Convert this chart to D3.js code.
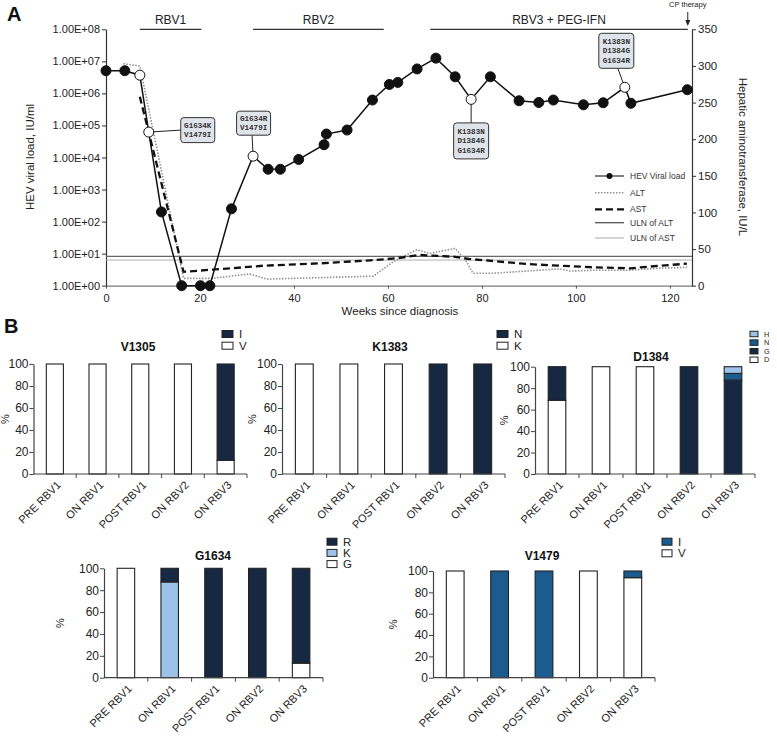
<!DOCTYPE html>
<html><head><meta charset="utf-8">
<script src="https://cdn.jsdelivr.net/npm/d3@7"></script>
<style>
body{margin:0;background:#fff}
svg{display:block}
text{font-family:"Liberation Sans",Arial,sans-serif;fill:#222}
</style>
</head><body>
<svg id="c" width="777" height="739"></svg>
<script>
// ---------------- DATA: panel A ----------------
const weeks = [0,4,7.2,9.1,11.8,16.1,20.1,22.1,26.7,31.3,34.5,37.1,41.0,46.4,46.9,51.3,56.7,60.3,62.1,66.2,70.2,74.3,77.7,81.8,87.9,92.1,95.2,101.6,105.8,110.4,111.7,123.7];
const viralLoad = [5.1e6,5.1e6,3.7e6,6.2e4,200,1,1,1,250,1.1e4,4300,4300,8700,2.5e4,5.4e4,7.2e4,6.2e5,1.9e6,2.2e6,5.8e6,1.26e7,3.3e6,6.5e5,3.3e6,5.9e5,5.2e5,6.2e5,4.4e5,5.1e5,1.55e6,4.9e5,1.3e6];
const openMarker = [0,0,1,1,0,0,0,0,0,1,0,0,0,0,0,0,0,0,0,0,0,0,1,0,0,0,0,0,0,1,0,0];
const altWeeks = [3.7,7.2,16.5,22.5,26.4,30.6,34.2,56.9,61.2,66.1,69,74.3,76.5,78.1,82.4,89.5,96.6,98.7,103.7,110.8,117.9,123.6];
const altValues = [303,300,10,10,13,16,9,13,33,49,44,51,35,17,17,20,23,20,21,21,24,25];
const astWeeks = [7.2,16.5,26.4,33.5,45.5,56.2,61.8,66.8,73.9,77.4,82.4,89.5,96.6,103.7,111.5,117.9,123.6];
const astValues = [258,19,23.7,27.3,30.5,34.6,37.4,42,39.6,36.4,33.7,29.6,27.3,25.1,23.7,27.3,30];
const ulnALT = 40;
const ulnAST = 35;
const vlTicks = [1,1e1,1e2,1e3,1e4,1e5,1e6,1e7,1e8];
const vlTickLabels = ["1.00E+00","1.00E+01","1.00E+02","1.00E+03","1.00E+04","1.00E+05","1.00E+06","1.00E+07","1.00E+08"];
const ampTicks = [0,50,100,150,200,250,300,350];
const weekTicks = [0,20,40,60,80,100,120];
const treatmentNames = ["RBV1","RBV2","RBV3 + PEG-IFN"];
const treatmentStart = [7.2,31.3,69];
const treatmentEnd = [20.3,59.1,123.8];
const cpTherapyWeek = 123.8;
const mutationLabels = [["G1634K","V1479I"],["G1634R","V1479I"],["K1383N","D1384G","G1634R"],["K1383N","D1384G","G1634R"]];
const mutationPointIndex = [3,9,22,29];

// ---------------- DATA: panel B ----------------
const categories = ["PRE RBV1","ON RBV1","POST RBV1","ON RBV2","ON RBV3"];
const pctTicks = [0,20,40,60,80,100];
const v1305_V = [100,100,100,100,12.5];
const v1305_I = [0,0,0,0,87.5];
const k1383_K = [100,100,100,0,0];
const k1383_N = [0,0,0,100,100];
const d1384_D = [68.75,100,100,0,0];
const d1384_G = [31.25,0,0,100,87.5];
const d1384_N = [0,0,0,0,6.25];
const d1384_H = [0,0,0,0,6.25];
const g1634_G = [100,0,0,0,13.3];
const g1634_K = [0,87.5,0,0,0];
const g1634_R = [0,12.5,100,100,86.7];
const v1479_V = [100,0,0,100,93.75];
const v1479_I = [0,100,100,0,6.25];

// ---------------- STYLE ----------------
const NAVY = "#172842", MID = "#1c5b8d", LIGHT = "#9cc3e7";

const svg = d3.select("#c");

// ======== Panel A ========
const xW = d3.scaleLinear().domain([0,124.7]).range([106,692]);
const yV = d3.scaleLog().domain([1,1e8]).range([285.7,29.3]);
const yA = d3.scaleLinear().domain([0,350]).range([285.7,29.3]);

svg.append("text").attr("x",7).attr("y",21).attr("font-size",20).attr("font-weight","bold").style("fill","#111").text("A");

// bottom axis
const gB = svg.append("g").attr("transform","translate(0,285.7)")
  .call(d3.axisBottom(xW).tickValues(weekTicks).tickSize(3).tickSizeOuter(0));
gB.select(".domain").attr("stroke","#777").attr("stroke-width",1.3);
gB.selectAll(".tick line").attr("stroke","#555");
gB.selectAll("text").attr("font-size",11).attr("font-family","Liberation Sans, Arial, sans-serif").style("fill","#222").attr("dy","0.9em");

// left axis
const gLA = svg.append("g").attr("transform","translate(106,0)")
  .call(d3.axisLeft(yV).tickValues(vlTicks).tickFormat((d,i)=>vlTickLabels[i]).tickSize(4).tickSizeOuter(0));
gLA.select(".domain").attr("stroke","#333").attr("stroke-width",1.2);
gLA.selectAll(".tick line").attr("stroke","#333");
gLA.selectAll("text").attr("font-size",11).attr("font-family","Liberation Sans, Arial, sans-serif").style("fill","#222").attr("x",-6);

// right axis
const gRA = svg.append("g").attr("transform","translate(692,0)")
  .call(d3.axisRight(yA).tickValues(ampTicks).tickSize(4).tickSizeOuter(0));
gRA.select(".domain").attr("stroke","#333").attr("stroke-width",1.2);
gRA.selectAll(".tick line").attr("stroke","#333");
gRA.selectAll("text").attr("font-size",11.5).attr("font-family","Liberation Sans, Arial, sans-serif").style("fill","#222").attr("x",6);

// axis titles
svg.append("text").attr("transform","translate(34,157) rotate(-90)").attr("text-anchor","middle").attr("font-size",11.5).text("HEV viral load, IU/ml");
svg.append("text").attr("transform","translate(739,157) rotate(90)").attr("text-anchor","middle").attr("font-size",11.5).text("Hepatic aminotransferase, IU/L");
svg.append("text").attr("x",400).attr("y",315).attr("text-anchor","middle").attr("font-size",11.5).text("Weeks since diagnosis");

// treatment bars
treatmentNames.forEach((t,i)=>{
  const x1 = xW(treatmentStart[i]), x2 = xW(treatmentEnd[i]);
  svg.append("line").attr("x1",x1).attr("x2",x2).attr("y1",29.3).attr("y2",29.3).attr("stroke","#333").attr("stroke-width",1.2);
  svg.append("text").attr("x",(x1+x2)/2).attr("y",24).attr("text-anchor","middle").attr("font-size",12).text(t);
});
// CP therapy
{
  const xc = xW(cpTherapyWeek);
  svg.append("text").attr("x",xc).attr("y",7).attr("text-anchor","middle").attr("font-size",7.5).text("CP therapy");
  svg.append("line").attr("x1",xc).attr("x2",xc).attr("y1",12).attr("y2",24).attr("stroke","#222").attr("stroke-width",1);
  svg.append("path").attr("d",`M${xc-2.5},${20} L${xc},${26} L${xc+2.5},${20} Z`).attr("fill","#222");
}

// ULN lines
svg.append("line").attr("x1",106).attr("x2",692).attr("y1",yA(ulnALT)).attr("y2",yA(ulnALT)).attr("stroke","#666").attr("stroke-width",1.3);
svg.append("line").attr("x1",106).attr("x2",692).attr("y1",yA(ulnAST)).attr("y2",yA(ulnAST)).attr("stroke","#b0b0b0").attr("stroke-width",1);

// ALT dotted
svg.append("path").datum(d3.range(altWeeks.length))
  .attr("d",d3.line().x(i=>xW(altWeeks[i])).y(i=>yA(altValues[i])))
  .attr("fill","none").attr("stroke","#8a8a8a").attr("stroke-width",1.6).attr("stroke-dasharray","1.4,1.6");
// AST dashed
svg.append("path").datum(d3.range(astWeeks.length))
  .attr("d",d3.line().x(i=>xW(astWeeks[i])).y(i=>yA(astValues[i])))
  .attr("fill","none").attr("stroke","#111").attr("stroke-width",2.3).attr("stroke-dasharray","7,4");

// viral load line
svg.append("path").datum(d3.range(weeks.length))
  .attr("d",d3.line().x(i=>xW(weeks[i])).y(i=>yV(viralLoad[i])))
  .attr("fill","none").attr("stroke","#111").attr("stroke-width",1.5);

// annotation layout (box offsets relative to point, box sizes)
const annLayout = [
  {dx:49, dy:-2, w:34, h:25, side:"left"},
  {dx:0.5, dy:-33, w:34, h:24, side:"bottom"},
  {dx:0, dy:41.5, w:35, h:36, side:"top"},
  {dx:-8.5, dy:-36.5, w:35, h:35, side:"bottom"}
];
mutationPointIndex.forEach((pi,k)=>{
  const px = xW(weeks[pi]), py = yV(viralLoad[pi]);
  const L = annLayout[k];
  const cx = px + L.dx, cy = py + L.dy;
  let ex, ey;
  if (L.side==="left"){ ex = cx - L.w/2; ey = cy; }
  else if (L.side==="bottom"){ ex = cx + (k===3?1.5:-1.5); ey = cy + L.h/2; }
  else { ex = cx; ey = cy - L.h/2; }
  svg.append("line").attr("x1",px).attr("y1",py).attr("x2",ex).attr("y2",ey).attr("stroke","#222").attr("stroke-width",1);
  svg.append("rect").attr("x",cx-L.w/2).attr("y",cy-L.h/2).attr("width",L.w).attr("height",L.h).attr("rx",3)
    .attr("fill","#dfe3ea").attr("stroke","#333").attr("stroke-width",1);
  const lines = mutationLabels[k];
  lines.forEach((t,j)=>{
    svg.append("text").attr("x",cx).attr("y",cy + (j-(lines.length-1)/2)*9.4 + 2.6)
      .attr("text-anchor","middle").attr("font-size",7.6).attr("font-weight","bold")
      .style("font-family","'Liberation Mono','Courier New',monospace").style("fill","#333").text(t);
  });
});

// markers
svg.append("g").selectAll("circle").data(d3.range(weeks.length)).join("circle")
  .attr("cx",i=>xW(weeks[i])).attr("cy",i=>yV(viralLoad[i])).attr("r",5)
  .attr("fill",i=>openMarker[i]?"#fff":"#111").attr("stroke","#111").attr("stroke-width",1);

// legend panel A
{
  const lx1=595, lx2=624, tx=630;
  const ys=[176,192.7,209.3,222.7,238];
  const names=["HEV Viral load","ALT","AST","ULN of ALT","ULN of AST"];
  const g=svg.append("g");
  g.append("line").attr("x1",lx1).attr("x2",lx2).attr("y1",ys[0]).attr("y2",ys[0]).attr("stroke","#555").attr("stroke-width",1.5);
  g.append("circle").attr("cx",(lx1+lx2)/2).attr("cy",ys[0]).attr("r",3).attr("fill","#111");
  g.append("line").attr("x1",lx1).attr("x2",lx2).attr("y1",ys[1]).attr("y2",ys[1]).attr("stroke","#8a8a8a").attr("stroke-width",1.6).attr("stroke-dasharray","1.4,1.6");
  g.append("line").attr("x1",lx1).attr("x2",lx2).attr("y1",ys[2]).attr("y2",ys[2]).attr("stroke","#111").attr("stroke-width",2.3).attr("stroke-dasharray","7,4");
  g.append("line").attr("x1",lx1).attr("x2",lx2).attr("y1",ys[3]).attr("y2",ys[3]).attr("stroke","#555").attr("stroke-width",1.3);
  g.append("line").attr("x1",lx1).attr("x2",lx2).attr("y1",ys[4]).attr("y2",ys[4]).attr("stroke","#b0b0b0").attr("stroke-width",1.1);
  names.forEach((n,i)=>g.append("text").attr("x",tx).attr("y",ys[i]+3).attr("font-size",8.5).style("fill","#333").text(n));
}

// ======== Panel B ========
svg.append("text").attr("x",4).attr("y",333).attr("font-size",20).attr("font-weight","bold").style("fill","#111").text("B");

function barPanel(cfg){
  const x = d3.scaleBand().domain(categories).range([cfg.ax, cfg.ae]).paddingInner(0.6).paddingOuter(0.3);
  const y = d3.scaleLinear().domain([0,100]).range([cfg.y0, cfg.y100]);
  const g = svg.append("g");
  // bars (stacked)
  const stack = d3.stack().keys(cfg.series.map((s,i)=>i)).value((d,k)=>cfg.series[k].values[d]);
  const layers = stack(d3.range(categories.length));
  layers.forEach((layer,k)=>{
    g.append("g").selectAll("rect").data(layer.filter(d=>d[1]-d[0]>0)).join("rect")
      .attr("x",d=>x(categories[d.data])).attr("width",x.bandwidth())
      .attr("y",d=>y(d[1])).attr("height",d=>y(d[0])-y(d[1]))
      .attr("fill",cfg.series[k].color).attr("stroke","#222").attr("stroke-width",1.1);
  });
  // y axis
  const ga = g.append("g").attr("transform",`translate(${cfg.ax},0)`)
    .call(d3.axisLeft(y).tickValues(pctTicks).tickSize(4).tickSizeOuter(0));
  ga.select(".domain").attr("stroke","#444").attr("stroke-width",1.2);
  ga.selectAll(".tick line").attr("stroke","#444");
  ga.selectAll("text").attr("font-size",12).attr("font-family","Liberation Sans, Arial, sans-serif").style("fill","#222").attr("x",-5);
  // x axis
  g.append("line").attr("x1",cfg.ax).attr("x2",cfg.ae).attr("y1",cfg.y0).attr("y2",cfg.y0).attr("stroke","#444").attr("stroke-width",1.2);
  const step = x.step();
  d3.range(1,categories.length+1).forEach(k=>{
    const tx = cfg.ax + k*step;
    g.append("line").attr("x1",tx).attr("x2",tx).attr("y1",cfg.y0).attr("y2",cfg.y0+4).attr("stroke","#444");
  });
  categories.forEach(c=>{
    const cx = x(c)+x.bandwidth()/2;
    g.append("text").attr("transform",`translate(${cx+4},${cfg.y0+9}) rotate(-45)`)
      .attr("text-anchor","end").attr("dy","0.35em").attr("font-size",11).text(c);
  });
  // labels
  g.append("text").attr("transform",`translate(${cfg.pctX},${(cfg.y0+cfg.y100)/2}) rotate(-90)`)
    .attr("text-anchor","middle").attr("font-size",11).text("%");
  g.append("text").attr("x",cfg.tx).attr("y",cfg.ty+4).attr("text-anchor","middle").attr("font-size",12).attr("font-weight","bold").style("fill","#111").text(cfg.title);
  // legend (top-down = reverse stack order)
  const leg = cfg.series.slice().reverse();
  leg.forEach((s,i)=>{
    const ly = cfg.ly + i*cfg.lstep;
    g.append("rect").attr("x",cfg.lx).attr("y",ly-cfg.lh/2).attr("width",cfg.lw).attr("height",cfg.lh)
      .attr("fill",s.color).attr("stroke","#222").attr("stroke-width",1);
    g.append("text").attr("x",cfg.lx+cfg.lw+6).attr("y",ly+cfg.lfs*0.36).attr("font-size",cfg.lfs).text(s.name);
  });
}

barPanel({title:"V1305", ax:33.5, ae:247, y0:474, y100:364, pctX:9, tx:138, ty:347,
  lx:222, ly:334, lstep:11.7, lw:11, lh:7, lfs:11.5,
  series:[{name:"V",values:v1305_V,color:"#fff"},{name:"I",values:v1305_I,color:NAVY}]});
barPanel({title:"K1383", ax:282, ae:505, y0:474, y100:364, pctX:256, tx:390, ty:347,
  lx:497, ly:334, lstep:11.7, lw:11, lh:7, lfs:11.5,
  series:[{name:"K",values:k1383_K,color:"#fff"},{name:"N",values:k1383_N,color:NAVY}]});
barPanel({title:"D1384", ax:535, ae:755, y0:474, y100:366.7, pctX:508, tx:651, ty:357,
  lx:750, ly:334, lstep:8.6, lw:8, lh:5.5, lfs:7.3,
  series:[{name:"D",values:d1384_D,color:"#fff"},{name:"G",values:d1384_G,color:NAVY},{name:"N",values:d1384_N,color:MID},{name:"H",values:d1384_H,color:LIGHT}]});
barPanel({title:"G1634", ax:104, ae:323, y0:677.7, y100:568.3, pctX:64, tx:213, ty:556,
  lx:327, ly:541.7, lstep:11.2, lw:10, lh:7, lfs:11.5,
  series:[{name:"G",values:g1634_G,color:"#fff"},{name:"K",values:g1634_K,color:LIGHT},{name:"R",values:g1634_R,color:NAVY}]});
barPanel({title:"V1479", ax:433, ae:655, y0:677.7, y100:571, pctX:397, tx:542, ty:556,
  lx:662, ly:541.7, lstep:11.6, lw:10, lh:7, lfs:11.5,
  series:[{name:"V",values:v1479_V,color:"#fff"},{name:"I",values:v1479_I,color:MID}]});
</script>
</body></html>
